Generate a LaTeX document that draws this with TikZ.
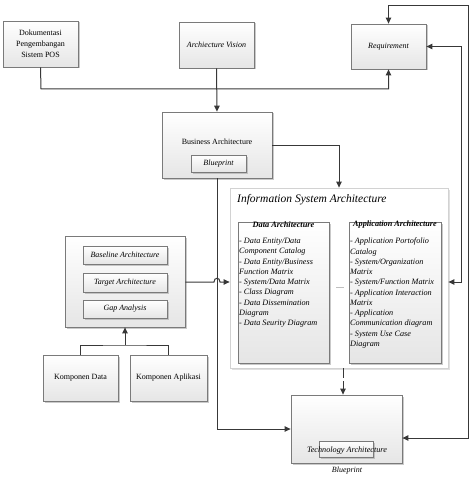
\documentclass[tikz,border=0pt]{standalone}
\usepackage{fontspec}
\setmainfont{Liberation Serif}
\usetikzlibrary{shadows,arrows.meta,calc}
\definecolor{lineg}{HTML}{383838}
\definecolor{boxline}{HTML}{7A7A7A}
\begin{document}
\begin{tikzpicture}[x=1pt,y=-1pt,
  box/.style={draw=boxline, line width=0.8pt, top color=white, bottom color=gray!20,
    drop shadow={shadow xshift=1.5pt,shadow yshift=-1.5pt,fill=gray!70,opacity=0.6},
    inner sep=2pt, align=center, font=\fontsize{8}{11}\selectfont},
  smallbox/.style={box, font=\itshape\fontsize{8}{9}\selectfont},
  isabox/.style={draw=gray!35, line width=0.8pt, fill=white,
    drop shadow={shadow xshift=1.5pt,shadow yshift=-1.5pt,fill=gray!40,opacity=0.6}},
  listtxt/.style={align=left, inner sep=0pt, font=\itshape\fontsize{8.2}{10.25}\selectfont},
  conn/.style={draw=lineg, line width=1pt},
  arr/.style={conn, -{Triangle[length=6pt,width=5.5pt]}},
  darr/.style={conn, {Triangle[length=6pt,width=5.5pt]}-{Triangle[length=6pt,width=5.5pt]}},
]
\useasboundingbox (0,0) rectangle (472,484);

% top row
\node[box, minimum width=75pt, minimum height=46pt] (dok) at (40.5,44) {Dokumentasi\\Pengembangan\\Sistem POS};
\node[box, minimum width=75pt, minimum height=46pt, font=\itshape\fontsize{8}{11}\selectfont] (vis) at (216.5,45) {Archiecture Vision};
\node[box, minimum width=75pt, minimum height=45pt, font=\itshape\fontsize{8}{11}\selectfont] (req) at (388.5,46.5) {Requirement};

% business
\node[box, minimum width=110pt, minimum height=66pt] (bus) at (217,145) {};
\node[inner sep=0pt, font=\fontsize{8}{10}\selectfont] (bustxt) at (217,142) {Business Architecture};
\node[smallbox, minimum width=55pt, minimum height=17pt] (busbp) at (218.5,163.5) {Blueprint};

% ISA
\node[isabox, minimum width=218pt, minimum height=180pt] (isa) at (339,278) {};
\node[anchor=west, inner sep=0pt, font=\itshape\fontsize{11.5}{13}\selectfont] (isatitle) at (237,200) {Information System Architecture};
\node[box, minimum width=91pt, minimum height=141pt] (data) at (283.5,292.5) {};
\node[box, minimum width=92pt, minimum height=141pt] (app) at (395,292.5) {};
\node[inner sep=0pt, font=\bfseries\itshape\fontsize{8.3}{9}\selectfont] (datat) at (283.5,225) {Data Architecture};
\node[inner sep=0pt, font=\bfseries\itshape\fontsize{8.2}{9}\selectfont] (appt) at (395,225) {Application Architecture};
\node[listtxt, anchor=north west] (datal) at (239,238) {- Data Entity/Data\\Component Catalog\\- Data Entity/Business\\Function Matrix\\- System/Data Matrix\\- Class Diagram\\- Data Dissemination\\Diagram\\- Data Seurity Diagram};
\node[listtxt, anchor=north west] (appl) at (350,238) {- Application Portofolio\\Catalog\\- System/Organization\\Matrix\\- System/Function Matrix\\- Application Interaction\\Matrix\\- Application\\Communication diagram\\- System Use Case\\Diagram};
\draw[gray!50, line width=0.8pt] ([xshift=7pt,yshift=5.5pt]data.east) -- ([xshift=-5pt,yshift=5.5pt]app.west);

% left group
\node[box, minimum width=120pt, minimum height=91pt] (left) at (125,281.5) {};
\node[smallbox, minimum width=84pt, minimum height=18pt] (base) at (125,255) {Baseline Architecture};
\node[smallbox, minimum width=84pt, minimum height=19pt] (targ) at (125,282.5) {Target Architecture};
\node[smallbox, minimum width=84pt, minimum height=18pt] (gap) at (125,309) {Gap Analysis};

\node[box, minimum width=75pt, minimum height=46pt] (kd) at (80.5,378) {Komponen Data};
\node[box, minimum width=77pt, minimum height=46pt] (ka) at (168.5,378) {Komponen Aplikasi};

% technology
\node[box, minimum width=111pt, minimum height=68pt] (tech) at (346.5,429) {};
\node[box, minimum width=54pt, minimum height=16pt, drop shadow={opacity=0}] (techbp) at (346,449) {};
\node[inner sep=0pt, font=\itshape\fontsize{8.2}{10}\selectfont] (techtxt) at (347,450.5) {Technology Architecture};
\node[inner sep=0pt, font=\itshape\fontsize{8}{10}\selectfont] (techbl) at (347,471) {Blueprint};

% coordinates
\coordinate (j1) at (41,89);
\coordinate (rt) at (468,6);
\coordinate (rb) at (468,438);
\coordinate (r2t) at (461,46.5);
\coordinate (r2b) at (461,282);
\coordinate (kj) at (125,345);
\coordinate (hop1) at (214,282);
\coordinate (hop2) at (220,282);

% connectors
\draw[arr] (dok.south) -- (j1) -| (req.south);
\draw[arr] (vis.south) -- (bus.north);
\draw[darr] (req.north) |- (rt) -- (rb) -- (tech.east |- rb);
\draw[darr] (req.east) -- (r2t) -- (r2b) -- (isa.east |- r2b);
\draw[arr] (bus.east) -| (isa.north);
\draw[arr] (bus.south) |- (tech.west);
\draw[arr] (left.east |- hop1) -- (hop1) .. controls (214,277) and (220,277) .. (hop2) -- (isa.west |- hop2);
\draw[conn] (kd.north) |- (kj) -| (ka.north);
\draw[arr] (kj) -- (left.south);
\draw[arr, dashed, dash pattern=on 10pt off 3pt] ([xshift=4pt]isa.south) -- ([xshift=4pt]isa.south |- tech.north);
\end{tikzpicture}
\end{document}
